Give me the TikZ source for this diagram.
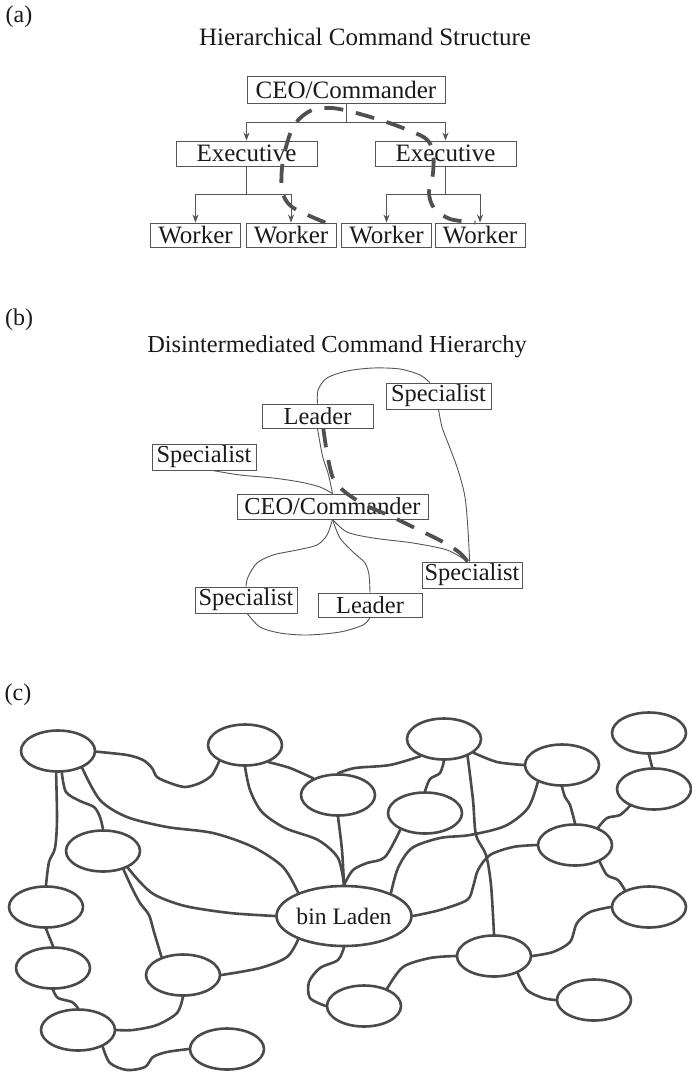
\documentclass[tikz,border=0pt]{standalone}
\usepackage{fontspec}
\setmainfont{Liberation Serif}
\usetikzlibrary{shapes.geometric,arrows.meta}
\definecolor{ink}{HTML}{1A1A1A}
\definecolor{rulegray}{HTML}{555555}
\definecolor{edgegray}{HTML}{4A4A4A}
\definecolor{dashink}{HTML}{505050}
\begin{document}
\begin{tikzpicture}[x=1bp,y=-1bp,
  every node/.style={text=ink},
  lbl/.style={font=\fontsize{24bp}{28bp}\selectfont},
  heading/.style={font=\fontsize{25bp}{30bp}\selectfont},
  box/.style={draw=rulegray, line width=0.9bp, fill=white, inner sep=0pt,
              font=\fontsize{25bp}{30bp}\selectfont},
  boxb/.style={box, font=\fontsize{24.4bp}{30bp}\selectfont},
  link/.style={draw=rulegray, line width=0.9bp},
  arr/.style={link, -{Stealth[length=8bp,width=6bp]}},
  trail/.style={draw=dashink, line width=3.8bp, dash pattern=on 19bp off 13bp},
  blob/.style={ellipse, draw=edgegray, line width=2.6bp, fill=white,
               minimum width=74bp, minimum height=41bp, inner sep=0pt},
  tie/.style={draw=edgegray, line width=2.6bp, line cap=round}
]
\path[use as bounding box, fill=white] (0,0) rectangle (692,1072);

% ---------------- (a) hierarchical structure ----------------
\node[lbl] (la) at (19,17) {(a)};
\node[heading] (ta) at (365,37) {Hierarchical Command Structure};
\node[box, minimum width=198bp, minimum height=27bp] (ceoA) at (346,89.5) {CEO/Commander};
\node[box, minimum width=141bp, minimum height=25bp] (exL) at (246.5,153.5) {Executive};
\node[box, minimum width=141bp, minimum height=25bp] (exR) at (445.5,153.5) {Executive};
\node[box, minimum width=90bp, minimum height=24bp] (w1) at (195.5,235) {Worker};
\node[box, minimum width=90bp, minimum height=24bp] (w2) at (291,235) {Worker};
\node[box, minimum width=90bp, minimum height=24bp] (w3) at (386.5,235) {Worker};
\node[box, minimum width=90bp, minimum height=24bp] (w4) at (480,235) {Worker};

\draw[arr] (ceoA.south) -- ++(0,19) -| (exL.north);
\draw[arr] (ceoA.south) -- ++(0,19) -| (exR.north);
\draw[arr] (exL.south) -- ++(0,28) -| (w1.north);
\draw[arr] (exL.south) -- ++(0,28) -| (w2.north);
\draw[arr] (exR.south) -- ++(0,28) -| (w3.north);
\draw[arr] (exR.south) -- ++(0,28) -| (w4.north);

\draw[trail] plot[smooth] coordinates {(w2.20) (292,207) (282,190) (283,160) (293,127)
  (310,111) (332,108) (360,114) (395,125) (425,138) (433,152) (433,173) (429,193)
  (434,208) (450,219) (w4.110)};

% ---------------- (b) disintermediated hierarchy ----------------
\node[lbl] (lb) at (19,320) {(b)};
\node[heading, font=\fontsize{24.4bp}{30bp}\selectfont] (tb) at (337,347) {Disintermediated Command Hierarchy};
\node[boxb, minimum width=105bp, minimum height=26bp] (spTR) at (438.5,396) {Specialist};
\node[boxb, minimum width=111bp, minimum height=24bp] (ldT) at (317.5,416) {Leader};
\node[boxb, minimum width=104bp, minimum height=26bp] (spL) at (204,457) {Specialist};
\node[boxb, minimum width=191bp, minimum height=25bp] (ceoB) at (332.5,506.5) {CEO/Commander};
\node[boxb, minimum width=100bp, minimum height=26bp] (spBR) at (472,575) {Specialist};
\node[boxb, minimum width=102bp, minimum height=26bp] (spBL) at (246,600) {Specialist};
\node[boxb, minimum width=104bp, minimum height=24bp] (ldB) at (370,605) {Leader};

\draw[link] plot[smooth] coordinates {(ldT.north) (318,390) (327,378) (347,371) (373,368)
  (400,369) (420,375) (spTR.123)};
\draw[link] plot[smooth] coordinates {(spTR.south) (442,427) (448,443) (458,470) (465,497)
  (468,530) (spBR.100)};
\draw[link] plot[smooth] coordinates {(ldT.south) (320,443) (323,458) (328,473) (331,486) (ceoB.north)};
\draw[link] plot[smooth] coordinates {(spL.-58) (240,475) (273,478) (300,482) (320,487) (ceoB.north)};
\draw[link] plot[smooth] coordinates {(ceoB.south) (327,535) (317,545) (297,550) (273,555)
  (257,563) (248,577) (spBL.north)};
\draw[link] plot[smooth] coordinates {(spBL.-85) (260,627) (280,633) (307,635) (340,632)
  (363,625) (ldB.south)};
\draw[link] plot[smooth] coordinates {(ceoB.south) (340,538) (353,552) (365,563) (369,575) (ldB.north)};
\draw[link] plot[smooth] coordinates {(ceoB.south) (347,532) (373,538) (413,543) (447,550) (spBR.108)};

\draw[trail] plot[smooth] coordinates {(ldT.-65) (327,453) (333,478) (345,492) (365,505)
  (388,515) (415,528) (445,543) (460,553) (spBR.108)};

% ---------------- (c) network around bin Laden ----------------
\node[lbl] (lc) at (18,695) {(c)};
\node[blob] (ea) at (58,751) {};
\node[blob] (eb) at (245,745) {};
\node[blob] (ec) at (338,795) {};
\node[blob] (ed) at (444,739) {};
\node[blob] (ee) at (425,813) {};
\node[blob] (ef) at (562,765) {};
\node[blob] (eg) at (649,733) {};
\node[blob] (eh) at (654,789) {};
\node[blob] (ei) at (575,845) {};
\node[blob] (ej) at (649,907) {};
\node[blob] (ek) at (494,956) {};
\node[blob] (el) at (594,1000) {};
\node[blob] (em) at (364,1006) {};
\node[blob] (en) at (103,851) {};
\node[blob] (eo) at (46,907) {};
\node[blob] (ep) at (53,968) {};
\node[blob] (eq) at (183,975) {};
\node[blob] (er) at (78,1030) {};
\node[blob] (es) at (227,1049) {};
\node[blob, minimum width=135bp, minimum height=60bp,
      font=\fontsize{23.6bp}{28bp}\selectfont] (bl) at (344,916) {bin Laden};

\draw[tie] plot[smooth] coordinates {(ea.-1) (127,755) (143,760) (152,768) (157,777) (170,783)
  (185,787) (200,783) (212,775) (eb.-148)};
\draw[tie] plot[smooth] coordinates {(ea.-95) (57,820) (55,848) (49,862) (eo.90)};
\draw[tie] plot[smooth] coordinates {(ea.-80) (66,792) (80,801) (94,807) (100,817) (en.90)};
\draw[tie] plot[smooth] coordinates {(ea.-35) (100,800) (127,817) (167,827) (213,833) (253,847)
  (283,867) (bl.153)};
\draw[tie] plot[smooth] coordinates {(eb.-36) (290,768) (ec.146)};
\draw[tie] plot[smooth] coordinates {(eb.-90) (250,790) (262,812) (285,828) (318,840) (338,858) (bl.90)};
\draw[tie] plot[smooth] coordinates {(ec.-90) (342,850) (bl.90)};
\draw[tie] plot[smooth] coordinates {(ee.-146) (385,857) (367,863) (353,870) (bl.90)};
\draw[tie] plot[smooth] coordinates {(ed.-144) (390,765) (355,768) (ec.90)};
\draw[tie] plot[smooth] coordinates {(ed.-90) (440,773) (430,779) (ee.90)};
\draw[tie] plot[smooth] coordinates {(ed.-36) (473,800) (476,835) (486,855) (491,885) (ek.90)};
\draw[tie] plot[smooth] coordinates {(ed.-25) (497,762) (ef.180)};
\draw[tie] plot[smooth] coordinates {(ef.-145) (528,808) (505,826) (470,835) (440,838) (412,848)
  (398,868) (bl.26)};
\draw[tie] plot[smooth] coordinates {(ef.-90) (565,797) (570,805) (ei.90)};
\draw[tie] (eg.-90) -- (eh.95);
\draw[tie] plot[smooth] coordinates {(eh.-145) (620,815) (607,818) (ei.37)};
\draw[tie] plot[smooth] coordinates {(ei.180) (513,847) (490,855) (478,870) (473,887) (467,900)
  (440,910) (bl.0)};
\draw[tie] plot[smooth] coordinates {(ei.-34) (607,875) (618,880) (ej.145)};
\draw[tie] plot[smooth] coordinates {(ej.180) (590,912) (577,923) (570,942) (553,952) (ek.0)};
\draw[tie] plot[smooth] coordinates {(ek.180) (430,958) (403,967) (em.37)};
\draw[tie] plot[smooth] coordinates {(ek.-36) (527,990) (543,998) (el.180)};
\draw[tie] plot[smooth] coordinates {(bl.-90) (338,960) (320,968) (309,982) (310,998) (em.180)};
\draw[tie] plot[smooth] coordinates {(en.-34) (140,882) (155,895) (185,906) (230,913) (bl.180)};
\draw[tie] plot[smooth] coordinates {(en.-42) (132,888) (140,903) (149,915) (154,932) (eq.140)};
\draw[tie] plot[smooth] coordinates {(bl.-153) (287,957) (260,968) (eq.0)};
\draw[tie] (eo.-90) -- (ep.90);
\draw[tie] plot[smooth] coordinates {(ep.-90) (58,998) (72,1002) (er.90)};
\draw[tie] plot[smooth] coordinates {(eq.-90) (177,1013) (157,1025) (133,1030) (er.0)};
\draw[tie] plot[smooth] coordinates {(er.-34) (110,1063) (127,1070) (145,1067) (153,1057)
  (167,1052) (es.180)};
\end{tikzpicture}
\end{document}
